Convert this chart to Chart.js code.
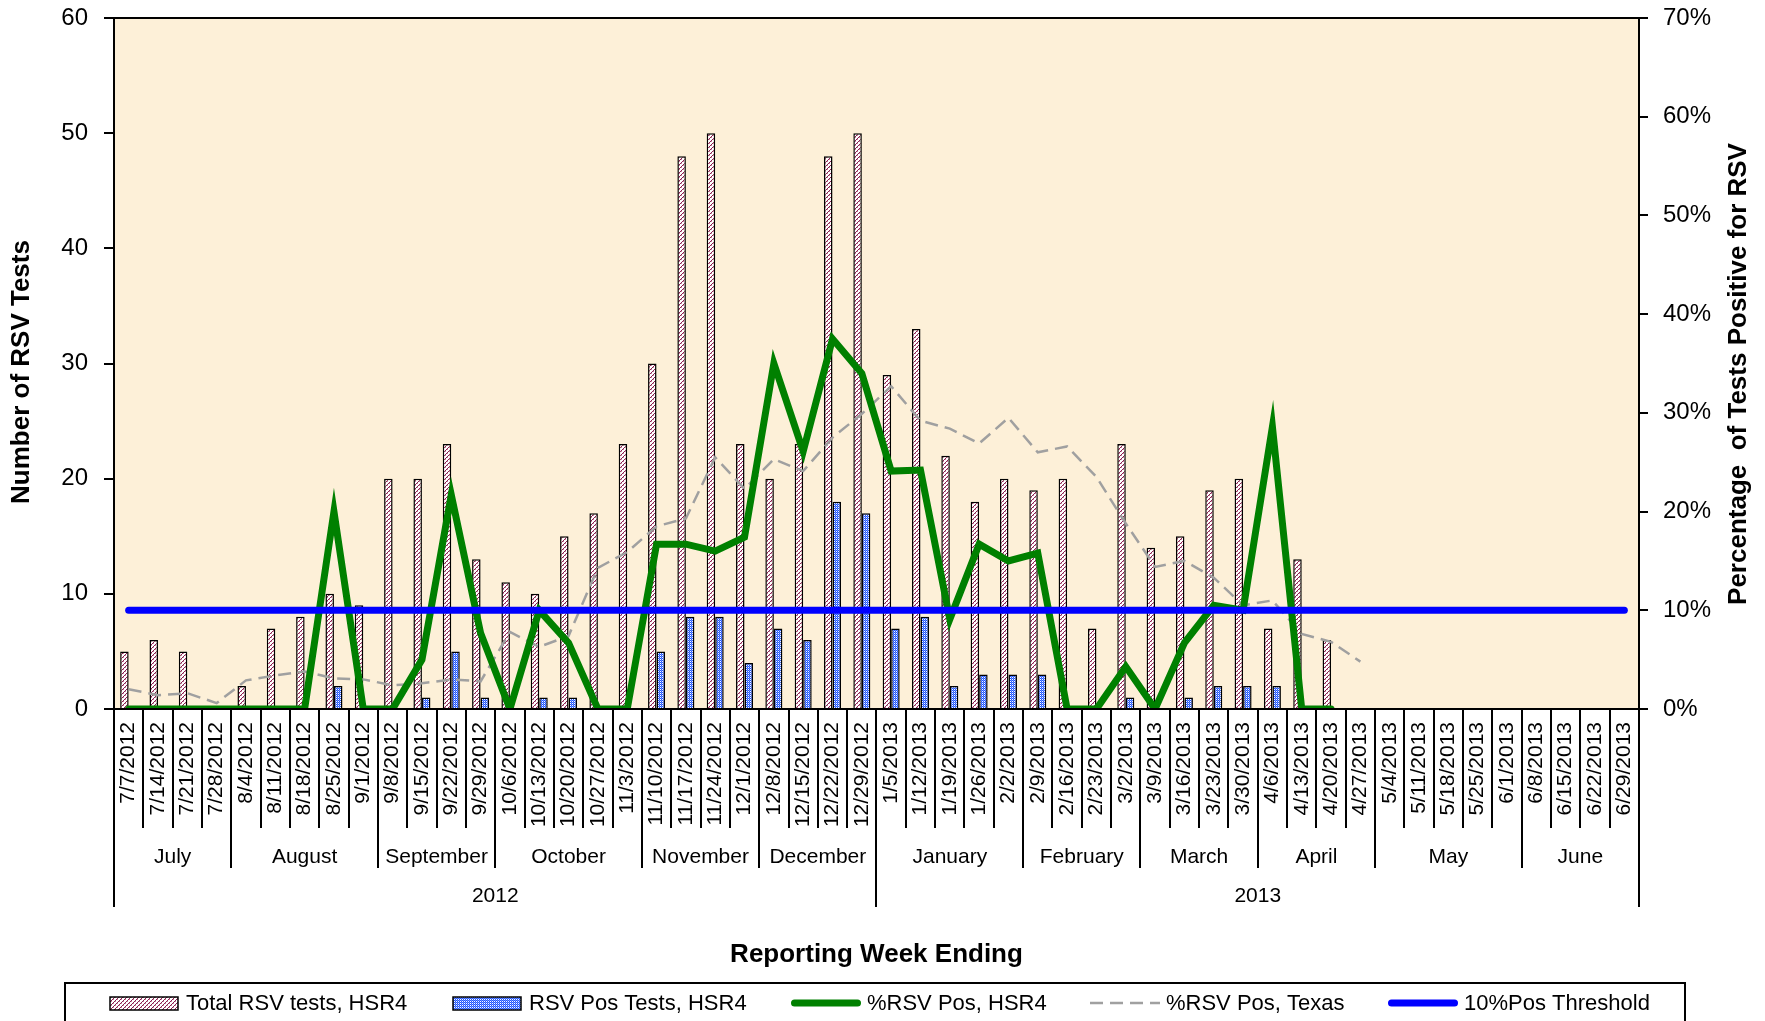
<!DOCTYPE html>
<html>
<head>
<meta charset="utf-8">
<script src="https://cdn.jsdelivr.net/npm/chart.js@4.4.1/dist/chart.umd.min.js"></script>
<style>
  body { margin: 0; background: #fff; }
  canvas { display: block; }
</style>
</head>
<body>
<canvas id="rsvChart" width="1765" height="1021"></canvas>
<script>
const weeks = [
  '7/7/2012', '7/14/2012', '7/21/2012', '7/28/2012', '8/4/2012', '8/11/2012', '8/18/2012', '8/25/2012',
  '9/1/2012', '9/8/2012', '9/15/2012', '9/22/2012', '9/29/2012', '10/6/2012', '10/13/2012', '10/20/2012',
  '10/27/2012', '11/3/2012', '11/10/2012', '11/17/2012', '11/24/2012', '12/1/2012', '12/8/2012',
  '12/15/2012', '12/22/2012', '12/29/2012',
  '1/5/2013', '1/12/2013', '1/19/2013', '1/26/2013', '2/2/2013', '2/9/2013', '2/16/2013', '2/23/2013',
  '3/2/2013', '3/9/2013', '3/16/2013', '3/23/2013', '3/30/2013', '4/6/2013', '4/13/2013', '4/20/2013',
  '4/27/2013', '5/4/2013', '5/11/2013', '5/18/2013', '5/25/2013', '6/1/2013', '6/8/2013', '6/15/2013',
  '6/22/2013', '6/29/2013'
];

// month groups as they appear under the weeks
const months = ['July', 'August', 'September', 'October', 'November', 'December',
  'January', 'February', 'March', 'April', 'May', 'June'];
const monthSpans = [4, 5, 4, 5, 4, 4, 5, 4, 4, 4, 5, 4];
const years = ['2012', '2013'];
const yearSpans = [26, 26];

const totalTests = [5, 6, 5, null, 2, 7, 8, 10, 9, 20, 20, 23, 13, 11, 10, 15, 17, 23, 30, 48, 50, 23, 20, 23, 48, 50,
  29, 33, 22, 18, 20, 19, 20, 7, 23, 14, 15, 19, 20, 7, 13, 6,
  null, null, null, null, null, null, null, null, null, null];
const posTests = [null, null, null, null, null, null, null, 2, null, null, 1, 5, 1, null, 1, 1, null, null, 5, 8, 8, 4, 7, 6, 18, 17,
  7, 8, 2, 3, 3, 3, null, null, 1, null, 1, 2, 2, 2, null, null,
  null, null, null, null, null, null, null, null, null, null];
const pctHSR4 = [0, 0, 0, 0, 0, 0, 0, 20, 0, 0, 5, 21.7, 7.7, 0, 10, 6.7, 0, 0, 16.7, 16.7, 16, 17.4, 35, 26.1, 37.5, 34,
  24.1, 24.2, 9.1, 16.7, 15, 15.8, 0, 0, 4.3, 0, 6.7, 10.5, 10, 28.6, 0, 0,
  null, null, null, null, null, null, null, null, null, null];
const pctTexas = [2.0, 1.4, 1.6, 0.6, 2.9, 3.4, 3.8, 3.1, 3.0, 2.4, 2.6, 3.0, 2.8, 7.8, 6.3, 7.4, 14.3, 15.9, 18.5, 19.3,
  25.5, 22.3, 25.3, 24.1, 27.5, 29.9,
  32.7, 29.2, 28.4, 26.9, 29.5, 26.0, 26.6, 23.5, 18.8, 14.4, 15.0, 13.3, 10.5, 11.0, 7.6, 6.8, 4.8,
  null, null, null, null, null, null, null, null, null];
const threshold = weeks.map(() => 10);

const FONT = "'Liberation Sans', Arial, sans-serif";

function makePattern(draw, size) {
  const c = document.createElement('canvas');
  c.width = size; c.height = size;
  draw(c.getContext('2d'));
  return c.getContext('2d').createPattern(c, 'repeat');
}

const hatch = makePattern(g => {
  g.fillStyle = '#fff';
  g.fillRect(0, 0, 4, 4);
  g.fillStyle = '#8c1f50';
  g.fillRect(0, 3, 1, 1);
  g.fillRect(1, 2, 1, 1);
  g.fillRect(2, 1, 1, 1);
  g.fillRect(3, 0, 1, 1);
  g.fillStyle = '#c98aa6';
  g.fillRect(1, 3, 1, 1);
  g.fillRect(3, 1, 1, 1);
}, 4);

const checker = makePattern(g => {
  g.fillStyle = '#ffffff';
  g.fillRect(0, 0, 2, 2);
  g.fillStyle = '#1f55ff';
  g.fillRect(0, 0, 1, 1);
  g.fillRect(1, 1, 1, 1);
  g.fillStyle = '#6f92ff';
  g.fillRect(1, 0, 1, 1);
}, 2);

const frame = {
  id: 'frame',
  beforeDraw(chart) {
    const { ctx, chartArea: a } = chart;
    ctx.save();
    ctx.fillStyle = '#fff';
    ctx.fillRect(0, 0, chart.width, chart.height);
    ctx.fillStyle = '#fdf0d8';
    ctx.fillRect(a.left, a.top, a.right - a.left, a.bottom - a.top);
    ctx.restore();
  },
  afterDraw(chart) {
    const { ctx, chartArea: a } = chart;
    const x = chart.scales.x;
    const half = (x.getPixelForValue(1) - x.getPixelForValue(0)) / 2;
    const edge = i => i < weeks.length ? x.getPixelForValue(i) - half : x.getPixelForValue(weeks.length - 1) + half;

    ctx.save();
    ctx.strokeStyle = '#000';
    ctx.lineWidth = 2;
    ctx.strokeRect(a.left, a.top, a.right - a.left, a.bottom - a.top);

    const line = (px, y2) => {
      ctx.beginPath();
      ctx.moveTo(Math.round(px), a.bottom);
      ctx.lineTo(Math.round(px), y2);
      ctx.stroke();
    };
    for (let i = 0; i <= weeks.length; i++) line(edge(i), 828);

    ctx.fillStyle = '#000';
    ctx.textAlign = 'center';
    ctx.textBaseline = 'middle';
    ctx.font = '21px ' + FONT;
    let k = 0;
    line(edge(0), 868);
    months.forEach((m, j) => {
      const s = k;
      k += monthSpans[j];
      line(edge(k), 868);
      ctx.fillText(m, (edge(s) + edge(k)) / 2, 857);
    });
    k = 0;
    line(edge(0), 907);
    years.forEach((yr, j) => {
      const s = k;
      k += yearSpans[j];
      line(edge(k), 907);
      ctx.fillText(yr, (edge(s) + edge(k)) / 2, 896);
    });

    // axis titles
    ctx.font = 'bold 26px ' + FONT;
    ctx.fillText('Reporting Week Ending', (a.left + a.right) / 2, 955);
    ctx.save();
    ctx.translate(22, 372);
    ctx.rotate(-Math.PI / 2);
    ctx.fillText('Number of RSV Tests', 0, 0);
    ctx.restore();
    ctx.save();
    ctx.translate(1739, 374);
    ctx.rotate(-Math.PI / 2);
    ctx.fillText('Percentage  of Tests Positive for RSV', 0, 0);
    ctx.restore();

    // legend
    ctx.lineWidth = 2;
    ctx.strokeRect(65, 983, 1620, 100);
    const ly = 1003;
    const ds = chart.data.datasets;
    const items = [
      { x: 110, d: ds[0] }, { x: 453, d: ds[1] }, { x: 791, d: ds[2] },
      { x: 1090, d: ds[3] }, { x: 1388, d: ds[4] }
    ];
    ctx.font = '22px ' + FONT;
    ctx.textAlign = 'left';
    items.forEach(it => {
      const d = it.d;
      if (d.type === 'bar') {
        ctx.fillStyle = d.backgroundColor;
        ctx.fillRect(it.x, ly - 6, 68, 13);
        ctx.lineWidth = 1.5;
        ctx.strokeStyle = '#000';
        ctx.strokeRect(it.x, ly - 6, 68, 13);
      } else {
        ctx.beginPath();
        ctx.lineWidth = d.borderWidth;
        ctx.strokeStyle = d.borderColor;
        ctx.lineCap = d.borderCapStyle || 'butt';
        ctx.setLineDash(d.borderDash || []);
        const pad = d.borderCapStyle === 'round' ? d.borderWidth / 2 : 0;
        ctx.moveTo(it.x + pad, ly);
        ctx.lineTo(it.x + 70 - pad, ly);
        ctx.stroke();
        ctx.setLineDash([]);
      }
      ctx.fillStyle = '#000';
      ctx.fillText(d.label, it.x + 76, ly + 1);
    });
    ctx.restore();
  }
};

new Chart(document.getElementById('rsvChart'), {
  data: {
    labels: weeks,
    datasets: [
      {
        type: 'bar', label: 'Total RSV tests, HSR4', data: totalTests, yAxisID: 'y',
        backgroundColor: hatch, borderColor: '#000', borderWidth: 1.5, order: 10,
        categoryPercentage: 0.58, barPercentage: 1.0
      },
      {
        type: 'bar', label: 'RSV Pos Tests, HSR4', data: posTests, yAxisID: 'y',
        backgroundColor: checker, borderColor: '#000', borderWidth: 1.5, order: 10,
        categoryPercentage: 0.58, barPercentage: 1.0
      },
      {
        type: 'line', label: '%RSV Pos, HSR4', data: pctHSR4, yAxisID: 'y1',
        borderColor: '#008000', borderWidth: 7, pointRadius: 0, tension: 0,
        borderJoinStyle: 'miter', borderCapStyle: 'round', order: 1
      },
      {
        type: 'line', label: '%RSV Pos, Texas', data: pctTexas, yAxisID: 'y1',
        borderColor: '#a0a0a0', borderWidth: 2.5, borderDash: [13, 7], pointRadius: 0, tension: 0,
        order: 2
      },
      {
        type: 'line', label: '10%Pos Threshold', data: threshold, yAxisID: 'y1',
        borderColor: '#0000ff', borderWidth: 7, pointRadius: 0, tension: 0,
        borderCapStyle: 'round', order: 0
      }
    ]
  },
  options: {
    responsive: false,
    animation: false,
    devicePixelRatio: 1,
    layout: { padding: { top: 18, left: 0, right: 0, bottom: 0 } },
    plugins: {
      legend: { display: false },
      tooltip: { enabled: false }
    },
    scales: {
      x: {
        type: 'category',
        offset: true,
        grid: { display: false, drawTicks: false },
        border: { display: true, color: '#000', width: 2 },
        ticks: {
          autoSkip: false, minRotation: 90, maxRotation: 90, padding: 13,
          color: '#000', font: { family: FONT, size: 21 }
        },
        afterFit(s) { s.height = 312; }
      },
      y: {
        position: 'left', min: 0, max: 60,
        grid: { drawOnChartArea: false, color: '#000', lineWidth: 2, tickLength: 10 },
        border: { color: '#000', width: 2 },
        ticks: { stepSize: 10, padding: 16, color: '#000', font: { family: FONT, size: 24 } },
        afterFit(s) { s.width = 114; s.paddingTop = 0; s.paddingBottom = 0; }
      },
      y1: {
        position: 'right', min: 0, max: 70,
        grid: { drawOnChartArea: false, color: '#000', lineWidth: 2, tickLength: 9 },
        border: { color: '#000', width: 2 },
        ticks: {
          stepSize: 10, padding: 15, color: '#000', font: { family: FONT, size: 24 },
          callback: v => v + '%'
        },
        afterFit(s) { s.width = 126; s.paddingTop = 0; s.paddingBottom = 0; }
      }
    }
  },
  plugins: [frame]
});
</script>
</body>
</html>
